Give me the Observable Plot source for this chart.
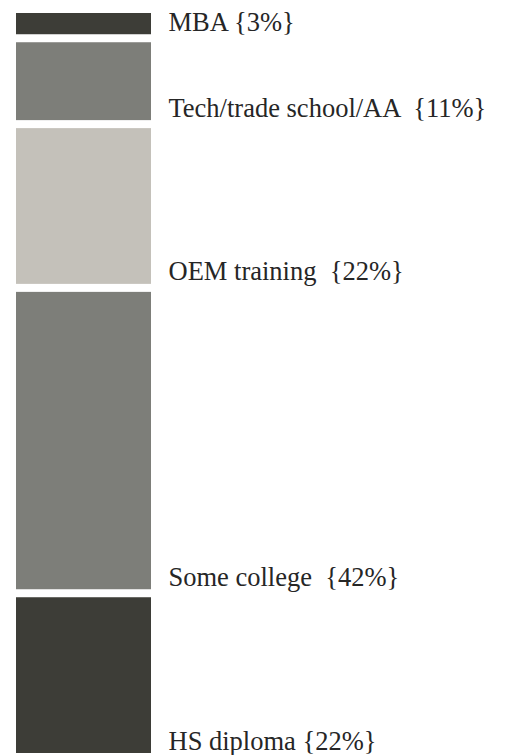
<!DOCTYPE html>
<html>
<head>
<meta charset="utf-8">
<script src="https://cdn.jsdelivr.net/npm/d3@7"></script>
<script src="https://cdn.jsdelivr.net/npm/@observablehq/plot@0.6"></script>
<style>
  html, body { margin: 0; padding: 0; background: #fff; }
  #chart text { white-space: pre; }
</style>
</head>
<body>
<div id="chart"></div>
<script>
// Data (bottom to top)
const categories = ["HS diploma", "Some college", "OEM training", "Tech/trade school/AA", "MBA"];
const shares = [22, 42, 22, 11, 3];
const labels = ["HS diploma {22%}", "Some college  {42%}", "OEM training  {22%}", "Tech/trade school/AA  {11%}", "MBA {3%}"];
const colors = ["#3d3d37", "#7d7e79", "#c4c1ba", "#7d7e79", "#3d3d37"];

const gap = 1.13; // gap between segments, in share units
const ends = d3.cumsum(shares);
const rows = categories.map((c, i) => ({
  group: "Education",
  category: c,
  label: labels[i],
  color: colors[i],
  y1: ends[i] - shares[i] + i * gap,
  y2: ends[i] + i * gap
}));
const total = ends[ends.length - 1] + (categories.length - 1) * gap;

const chart = Plot.plot({
  width: 527,
  height: 755,
  marginTop: 13,
  marginBottom: 2,
  marginLeft: 16,
  marginRight: 376,
  x: {domain: ["Education"], padding: 0, axis: null},
  y: {domain: [0, total], axis: null},
  style: {background: "#fff", overflow: "visible"},
  marks: [
    Plot.rectY(rows, {x: "group", y1: "y1", y2: "y2", fill: "color"}),
    Plot.text(rows, {
      x: "group", y: "y1", text: "label",
      textAnchor: "start", lineAnchor: "bottom",
      dx: 84.5, dy: -4,
      fill: "#262626",
      fontSize: 26.5,
      fontFamily: "Liberation Serif, Times New Roman, serif"
    })
  ]
});
document.getElementById("chart").append(chart);
</script>
</body>
</html>
